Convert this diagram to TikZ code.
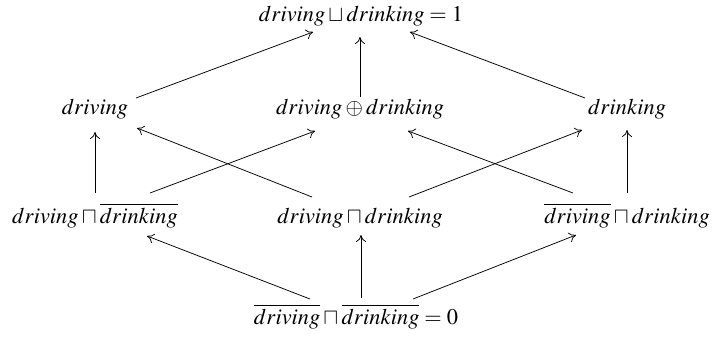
\documentclass[tikz,border=0pt]{standalone}
\usepackage{mathptmx}
\usetikzlibrary{arrows.meta}
\begin{document}
\begin{tikzpicture}[x=1pt,y=-1pt,
  lbl/.style={inner sep=0pt,anchor=base,font=\fontsize{22.4}{26}\selectfont},
  edge/.style={line width=0.75pt,-{Computer Modern Rightarrow[length=7pt,width=10pt]}}]
\useasboundingbox (0,0) rectangle (712,340);
\node[lbl] (top) at (361,21) {$driving \sqcup drinking = 1$};
\node[lbl] (l2a) at (95,114) {$driving$};
\node[lbl] (l2b) at (360,114) {$driving \oplus drinking$};
\node[lbl] (l2c) at (627,114) {$drinking$};
\node[lbl] (l3a) at (95,223) {$driving \sqcap \overline{drinking}$};
\node[lbl] (l3b) at (360,223) {$driving \sqcap drinking$};
\node[lbl] (l3c) at (627,223) {$\overline{driving} \sqcap drinking$};
\node[lbl] (bot) at (356,324) {$\overline{driving} \sqcap \overline{drinking} = 0$};
% bottom to row 3
\draw[edge] ([shift={(-46,-25)}]bot.base) -- ([shift={(52,13)}]l3a.base);
\draw[edge] ([shift={(5,-26)}]bot.base) -- ([shift={(1,12)}]l3b.base);
\draw[edge] ([shift={(57,-25)}]bot.base) -- ([shift={(-51,12)}]l3c.base);
% row 3 to row 2
\draw[edge] ([shift={(0,-30)}]l3a.base) -- ([shift={(0,18)}]l2a.base);
\draw[edge] ([shift={(55,-30)}]l3a.base) -- ([shift={(-45,17)}]l2b.base);
\draw[edge] ([shift={(-48,-26)}]l3b.base) -- ([shift={(42,14)}]l2a.base);
\draw[edge] ([shift={(49,-26)}]l3b.base) -- ([shift={(-45,16)}]l2c.base);
\draw[edge] ([shift={(-54,-30)}]l3c.base) -- ([shift={(48,17)}]l2b.base);
\draw[edge] ([shift={(0,-30)}]l3c.base) -- ([shift={(0,16)}]l2c.base);
% row 2 to top
\draw[edge] ([shift={(41,-16)}]l2a.base) -- ([shift={(-48,11)}]top.base);
\draw[edge] ([shift={(0,-17)}]l2b.base) -- ([shift={(-1,16)}]top.base);
\draw[edge] ([shift={(-42,-16)}]l2c.base) -- ([shift={(49,11)}]top.base);
\end{tikzpicture}
\end{document}
